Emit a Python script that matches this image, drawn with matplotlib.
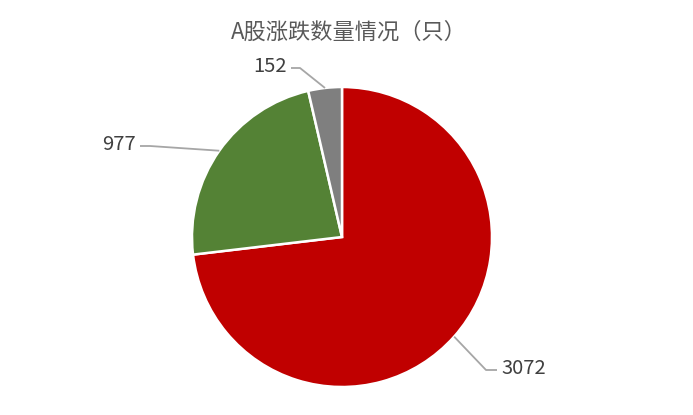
import numpy as np
import matplotlib
matplotlib.use("Agg")
import matplotlib.pyplot as plt

plt.rcParams['font.family'] = ['Noto Sans CJK SC', 'DejaVu Sans']

title = 'A股涨跌数量情况（只）'
labels = ['3072', '977', '152']
counts = [3072, 977, 152]
colors = ['#C00000', '#548235', '#7F7F7F']

W, H = 693, 415
fig = plt.figure(figsize=(W / 100, H / 100), dpi=100)
ax = fig.add_axes([0, 0, 1, 1])

cx, cy, r = 342, H - 237, 150
wedges, _ = ax.pie(counts, colors=colors, startangle=90, counterclock=False,
                   center=(cx, cy), radius=r, frame=True,
                   wedgeprops=dict(edgecolor='white', linewidth=1.8))
ax.set_xlim(0, W)
ax.set_ylim(0, H)
ax.set_aspect('equal')
ax.axis('off')

# label placement: (elbow x, elbow y, text x, ha)
label_pos = [
    (486, H - 370, 501, 'left'),
    (150, H - 146, 136, 'right'),
    (300, H - 68, 287, 'right'),
]
line_col = '#A6A6A6'
for w, lab, (ex, ey, tx, ha) in zip(wedges, labels, label_pos):
    mid = np.deg2rad((w.theta1 + w.theta2) / 2)
    px, py = cx + r * np.cos(mid), cy + r * np.sin(mid)
    end = tx + (-4 if ha == 'left' else 4)
    ax.plot([px, ex, end], [py, ey, ey], color=line_col, lw=1.3,
            solid_capstyle='butt')
    ax.text(tx, ey + 2, lab, ha=ha, va='center', fontsize=14.5, color='#404040')

ax.text(W / 2 + 2, H - 32, title, ha='center', va='center', fontsize=16,
        color='#595959')

fig.savefig('out.png', dpi=100)
